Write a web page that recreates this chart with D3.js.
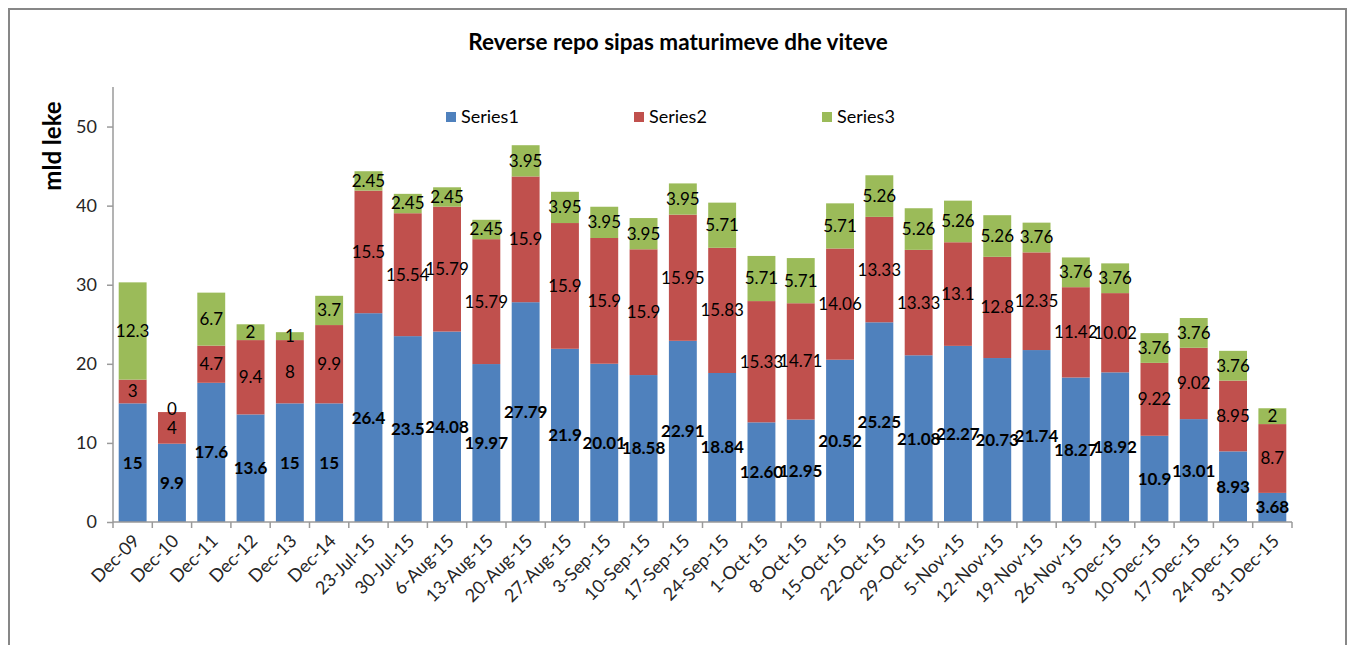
<!DOCTYPE html>
<html>
<head>
<meta charset="utf-8">
<script src="https://cdn.jsdelivr.net/npm/d3@7"></script>
<style>
  body { margin: 0; background: #fff; }
  text { font-family: Lato, "Liberation Sans", sans-serif; }
  .axis path, .axis line { stroke: #9a9a9a; stroke-width: 1.5px; }
  .axis text { fill: #262626; }
</style>
</head>
<body>
<svg id="chart" width="1352" height="645"></svg>
<script>

/* DATA */

const categories = ["Dec-09", "Dec-10", "Dec-11", "Dec-12", "Dec-13", "Dec-14",
  "23-Jul-15", "30-Jul-15", "6-Aug-15", "13-Aug-15", "20-Aug-15", "27-Aug-15",
  "3-Sep-15", "10-Sep-15", "17-Sep-15", "24-Sep-15", "1-Oct-15", "8-Oct-15",
  "15-Oct-15", "22-Oct-15", "29-Oct-15", "5-Nov-15", "12-Nov-15", "19-Nov-15",
  "26-Nov-15", "3-Dec-15", "10-Dec-15", "17-Dec-15", "24-Dec-15", "31-Dec-15"];

const series1 = [15, 9.9, 17.6, 13.6, 15, 15, 26.4, 23.5, 24.08, 19.97, 27.79, 21.9,
  20.01, 18.58, 22.91, 18.84, 12.60, 12.95, 20.52, 25.25, 21.08, 22.27, 20.73, 21.74,
  18.27, 18.92, 10.9, 13.01, 8.93, 3.68];

const series2 = [3, 4, 4.7, 9.4, 8, 9.9, 15.5, 15.54, 15.79, 15.79, 15.9, 15.9,
  15.9, 15.9, 15.95, 15.83, 15.33, 14.71, 14.06, 13.33, 13.33, 13.1, 12.8, 12.35,
  11.42, 10.02, 9.22, 9.02, 8.95, 8.7];

const series3 = [12.3, 0, 6.7, 2, 1, 3.7, 2.45, 2.45, 2.45, 2.45, 3.95, 3.95,
  3.95, 3.95, 3.95, 5.71, 5.71, 5.71, 5.71, 5.26, 5.26, 5.26, 5.26, 3.76,
  3.76, 3.76, 3.76, 3.76, 3.76, 2];

const seriesNames = ["Series1", "Series2", "Series3"];
const seriesColors = ["#4f81bd", "#c0504d", "#9bbb59"];
const yTicks = [0, 10, 20, 30, 40, 50];

// excel showed this one with two decimals
const labelOverride = { "Series1|1-Oct-15": "12.60" };

/* LAYOUT */

const svg = d3.select("svg#chart");
const margin = { left: 113, right: 60, top: 87, bottom: 123 };
const plotWidth = 1292 - margin.left;
const plotHeight = 522 - margin.top;

svg.append("rect")
  .attr("x", 9).attr("y", 9)
  .attr("width", 1337).attr("height", 660)
  .attr("fill", "none")
  .attr("stroke", "#878787")
  .attr("stroke-width", 2);

const plotArea = svg.append("g")
  .attr("transform", "translate(" + margin.left + "," + margin.top + ")");

/* SCALES */

let catScale = d3.scaleBand()
  .domain(categories)
  .range([0, plotWidth])
  .paddingInner(0.29)
  .paddingOuter(0.145);

let valueScale = d3.scaleLinear()
  .domain([0, 55])
  .range([plotHeight, 0]);

/* STACK */

let rows = categories.map(function(c, i) {
  return { cat: c, Series1: series1[i], Series2: series2[i], Series3: series3[i] };
});

let stacked = d3.stack().keys(seriesNames)(rows);

/* BARS */

const layers = plotArea.selectAll("g.layer")
  .data(stacked)
  .join("g")
  .attr("class", "layer")
  .attr("fill", function(d, i) { return seriesColors[i]; });

layers.selectAll("rect")
  .data(function(d) { return d; })
  .join("rect")
  .attr("x", function(d) { return catScale(d.data.cat); })
  .attr("y", function(d) { return valueScale(d[1]); })
  .attr("width", catScale.bandwidth())
  .attr("height", function(d) { return valueScale(d[0]) - valueScale(d[1]); });

/* AXES */

let yAxis = d3.axisLeft(valueScale).tickValues(yTicks).tickSize(6).tickPadding(10).tickSizeOuter(0);
let yGroup = plotArea.append("g").attr("class", "axis").call(yAxis);
yGroup.select(".domain").attr("d", "M0," + plotHeight + "V" + valueScale(55));
yGroup.selectAll("text").style("font-size", "18px").attr("fill", "#404040");

let xGroup = plotArea.append("g")
  .attr("class", "axis")
  .attr("transform", "translate(0," + plotHeight + ")");
xGroup.append("path")
  .attr("class", "domain")
  .attr("d", "M0,0H" + plotWidth);

// tick marks sit between categories, like excel
let step = catScale.step();
xGroup.selectAll("line.tick")
  .data(d3.range(categories.length + 1))
  .join("line")
  .attr("class", "tick")
  .attr("x1", function(i) { return i * step; })
  .attr("x2", function(i) { return i * step; })
  .attr("y1", 0).attr("y2", 6);

xGroup.selectAll("text.xlab")
  .data(categories)
  .join("text")
  .attr("class", "xlab")
  .attr("text-anchor", "end")
  .attr("transform", function(c) {
    let cx = catScale(c) + catScale.bandwidth() / 2;
    return "translate(" + (cx + 8) + ",20) rotate(-45)";
  })
  .style("font-size", "18px")
  .attr("fill", "#000")
  .text(function(c) { return c; });

/* DATA LABELS */

layers.selectAll("text")
  .data(function(d) { return d.map(function(p) { return { key: d.key, p: p }; }); })
  .join("text")
  .attr("x", function(d) { return catScale(d.p.data.cat) + catScale.bandwidth() / 2; })
  .attr("y", function(d) {
    let mid = (valueScale(d.p[0]) + valueScale(d.p[1])) / 2;
    // a zero segment has no room, lift its label a little off the bar below
    return d.p[1] === d.p[0] ? mid - 3 : mid;
  })
  .attr("dy", "0.35em")
  .attr("text-anchor", "middle")
  .attr("fill", "#000")
  .style("font-size", "17px")
  .style("font-weight", function(d) { return d.key === "Series1" ? "bold" : "normal"; })
  .text(function(d) {
    let k = d.key + "|" + d.p.data.cat;
    if (labelOverride[k]) return labelOverride[k];
    return String(d.p.data[d.key]);
  });

/* TITLES */

svg.append("text")
  .attr("x", 678).attr("y", 50)
  .attr("text-anchor", "middle")
  .style("font-size", "22.5px")
  .style("font-weight", "bold")
  .text("Reverse repo sipas maturimeve dhe viteve");

svg.append("text")
  .attr("transform", "translate(61,146) rotate(-90)")
  .attr("text-anchor", "middle")
  .style("font-size", "24px")
  .style("font-weight", "bold")
  .text("mld leke");

/* LEGEND */

const legendX = [446, 634, 822];
const legend = svg.selectAll("g.legend")
  .data(seriesNames)
  .join("g")
  .attr("class", "legend")
  .attr("transform", function(d, i) { return "translate(" + legendX[i] + ",112)"; });

legend.append("rect")
  .attr("width", 10).attr("height", 10)
  .attr("fill", function(d, i) { return seriesColors[i]; });

legend.append("text")
  .attr("x", 15).attr("y", 11)
  .style("font-size", "18px")
  .attr("fill", "#000")
  .text(function(d) { return d; });

</script>
</body>
</html>
